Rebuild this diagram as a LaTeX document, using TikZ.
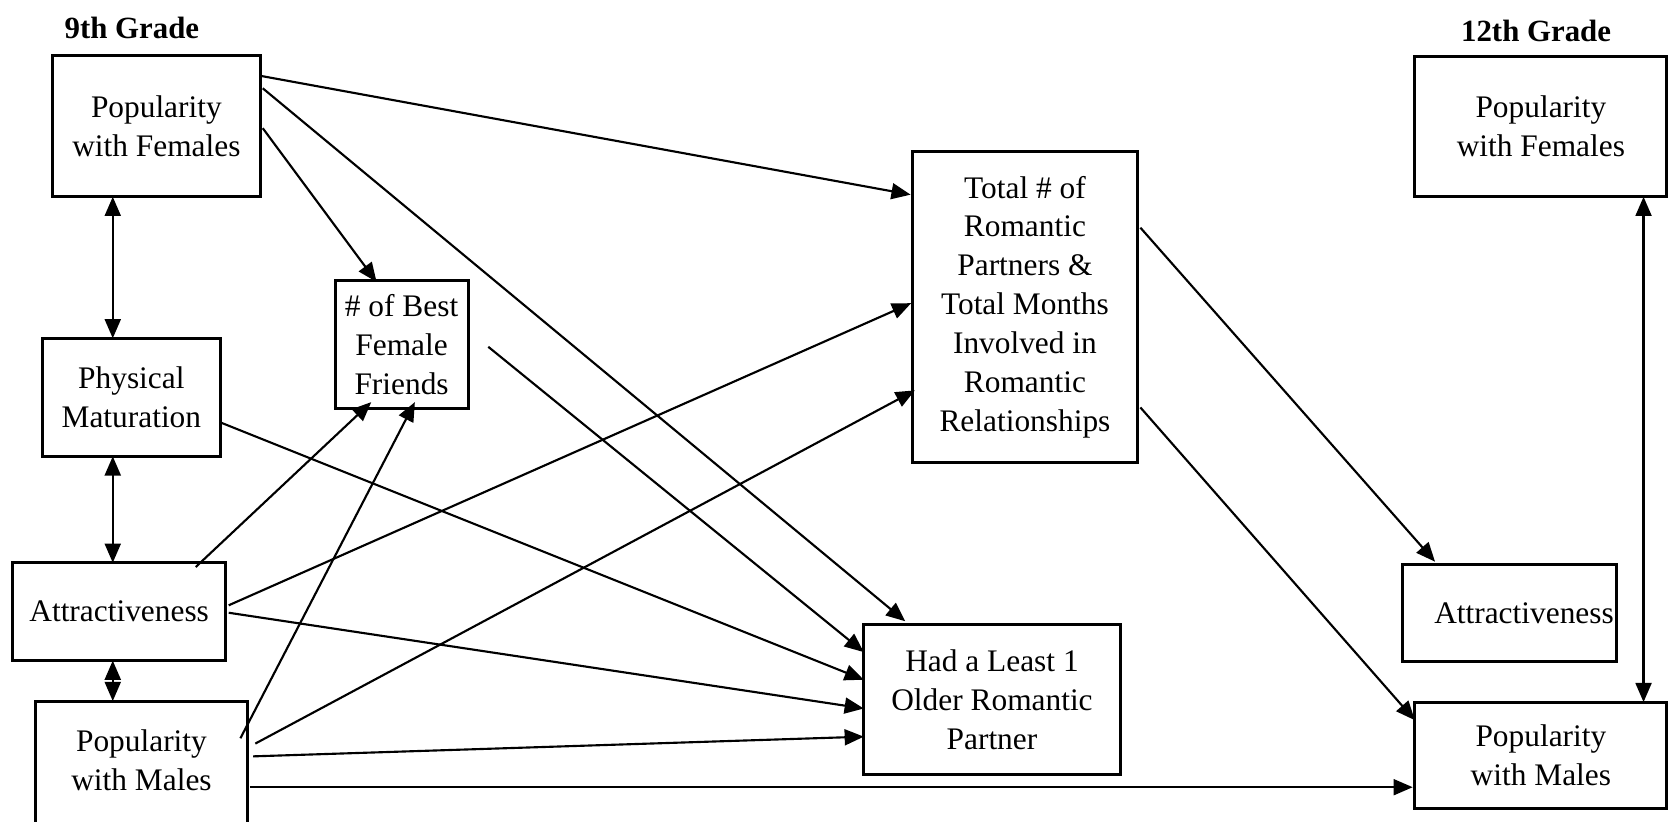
\documentclass[tikz,border=0pt]{standalone}
\usepackage{fontspec}
\setmainfont{Liberation Serif}
\usetikzlibrary{arrows.meta,calc}
\begin{document}
\begin{tikzpicture}[x=1pt,y=-1pt,
  box/.style={draw, line width=2.8pt, outer sep=0pt, inner sep=0pt, align=center,
    font=\fontsize{29.5}{36.5}\selectfont},
  heading/.style={font=\fontsize{29}{34}\selectfont\bfseries, inner sep=0pt},
  conn/.style={line width=2pt, -{Triangle[length=18pt,width=15pt]}},
  twoway/.style={line width=2pt, {Triangle[length=18pt,width=15pt]}-{Triangle[length=18pt,width=15pt]}},
]
\fill[white] (0,0) rectangle (1568,772);
\useasboundingbox (0,0) rectangle (1568,772);

% column headings
\node[heading] (g9) at (124,26) {9th Grade};
\node[heading] (g12) at (1444,29) {12th Grade};

% 9th grade measures
\node[box, minimum width=196pt, minimum height=133pt] (pf9) at (147,118.5) {Popularity\\with Females};
\node[box, minimum width=167pt, minimum height=111pt] (pm) at (123.5,373.5) {Physical\\Maturation};
\node[box, minimum width=125pt, minimum height=120pt] (bf) at (377.5,324) {\# of Best\\Female\\Friends};
\node[box, minimum width=200pt, minimum height=92pt] (at9) at (112,575) {Attractiveness};
\node[box, draw=none, minimum width=200pt, minimum height=111pt] (pm9) at (133,714.5) {Popularity\\with Males};
\draw[line width=2.8pt] ([yshift=-40pt]pm9.south west) -- (pm9.north west) -- (pm9.north east) -- ([yshift=-40pt]pm9.south east);

% romantic experience
\node[box, minimum width=211pt, minimum height=293pt] (tot) at (963.5,288.5)
  {Total \# of\\Romantic\\Partners \&\\Total Months\\Involved in\\Romantic\\Relationships};
\node[box, minimum width=241pt, minimum height=141pt] (had) at (932.5,657.5)
  {Had a Least 1\\Older Romantic\\Partner};

% 12th grade measures
\node[box, minimum width=237pt, minimum height=132pt] (pf12) at (1448.5,119) {Popularity\\with Females};
\node[box, minimum width=202pt, minimum height=91pt, text width=196pt, align=right] (at12) at (1419,576.5) {Attractiveness};
\node[box, minimum width=237pt, minimum height=100pt] (pm12) at (1448.5,710) {Popularity\\with Males};

% correlations among 9th grade measures
\draw[twoway] ($(pf9.south west)+(57,0)$) -- ($(pm.north west)+(66,0)$);
\draw[twoway] ($(pm.south west)+(66,0)$) -- ($(at9.north west)+(94,0)$);
\draw[twoway] ($(at9.south west)+(94,0)$) -- ($(pm9.north west)+(73,0)$);
\draw[twoway] ($(pf12.south west)+(215,0)$) -- ($(pm12.north west)+(215,0)$);

% paths from popularity with females
\draw[conn] ($(pf9.north east)+(1,19.5)$) -- ($(tot.north west)+(-2,41)$);
\draw[conn] ($(pf9.north east)+(2,31)$) -- ($(had.north west)+(39,-3)$);
\draw[conn] ($(pf9.north east)+(2,68.5)$) -- ($(bf.north west)+(39,1)$);

% paths into best female friends
\draw[conn] ($(at9.north west)+(172,4)$) -- ($(bf.south west)+(34,-6)$);
\draw[conn] ($(pm9.north east)+(-7,35)$) -- ($(bf.south west)+(75,-6)$);

% paths into older partner
\draw[conn] ($(bf.north east)+(19,62)$) -- ($(had.north west)+(0,26)$);
\draw[conn] ($(pm.north east)+(0,79)$) -- ($(had.north west)+(0,52)$);
\draw[conn] ($(at9.north east)+(3,47)$) -- ($(had.north west)+(0,79)$);
\draw[conn] ($(pm9.north east)+(5,52)$) -- ($(had.north west)+(0,105.5)$);

% paths into total partners
\draw[conn] ($(at9.north east)+(3,40)$) -- ($(tot.north west)+(-1.5,143)$);
\draw[conn] ($(pm9.north east)+(7,40)$) -- ($(tot.north west)+(2,225)$);

% paths into 12th grade
\draw[conn] ($(pm9.north east)+(2,81)$) -- ($(pm12.north west)+(-2,80)$);
\draw[conn] ($(tot.north east)+(3,72)$) -- ($(at12.north west)+(31,-3)$);
\draw[conn] ($(tot.north east)+(3,241)$) -- ($(pm12.north west)+(0,17)$);
\end{tikzpicture}
\end{document}
